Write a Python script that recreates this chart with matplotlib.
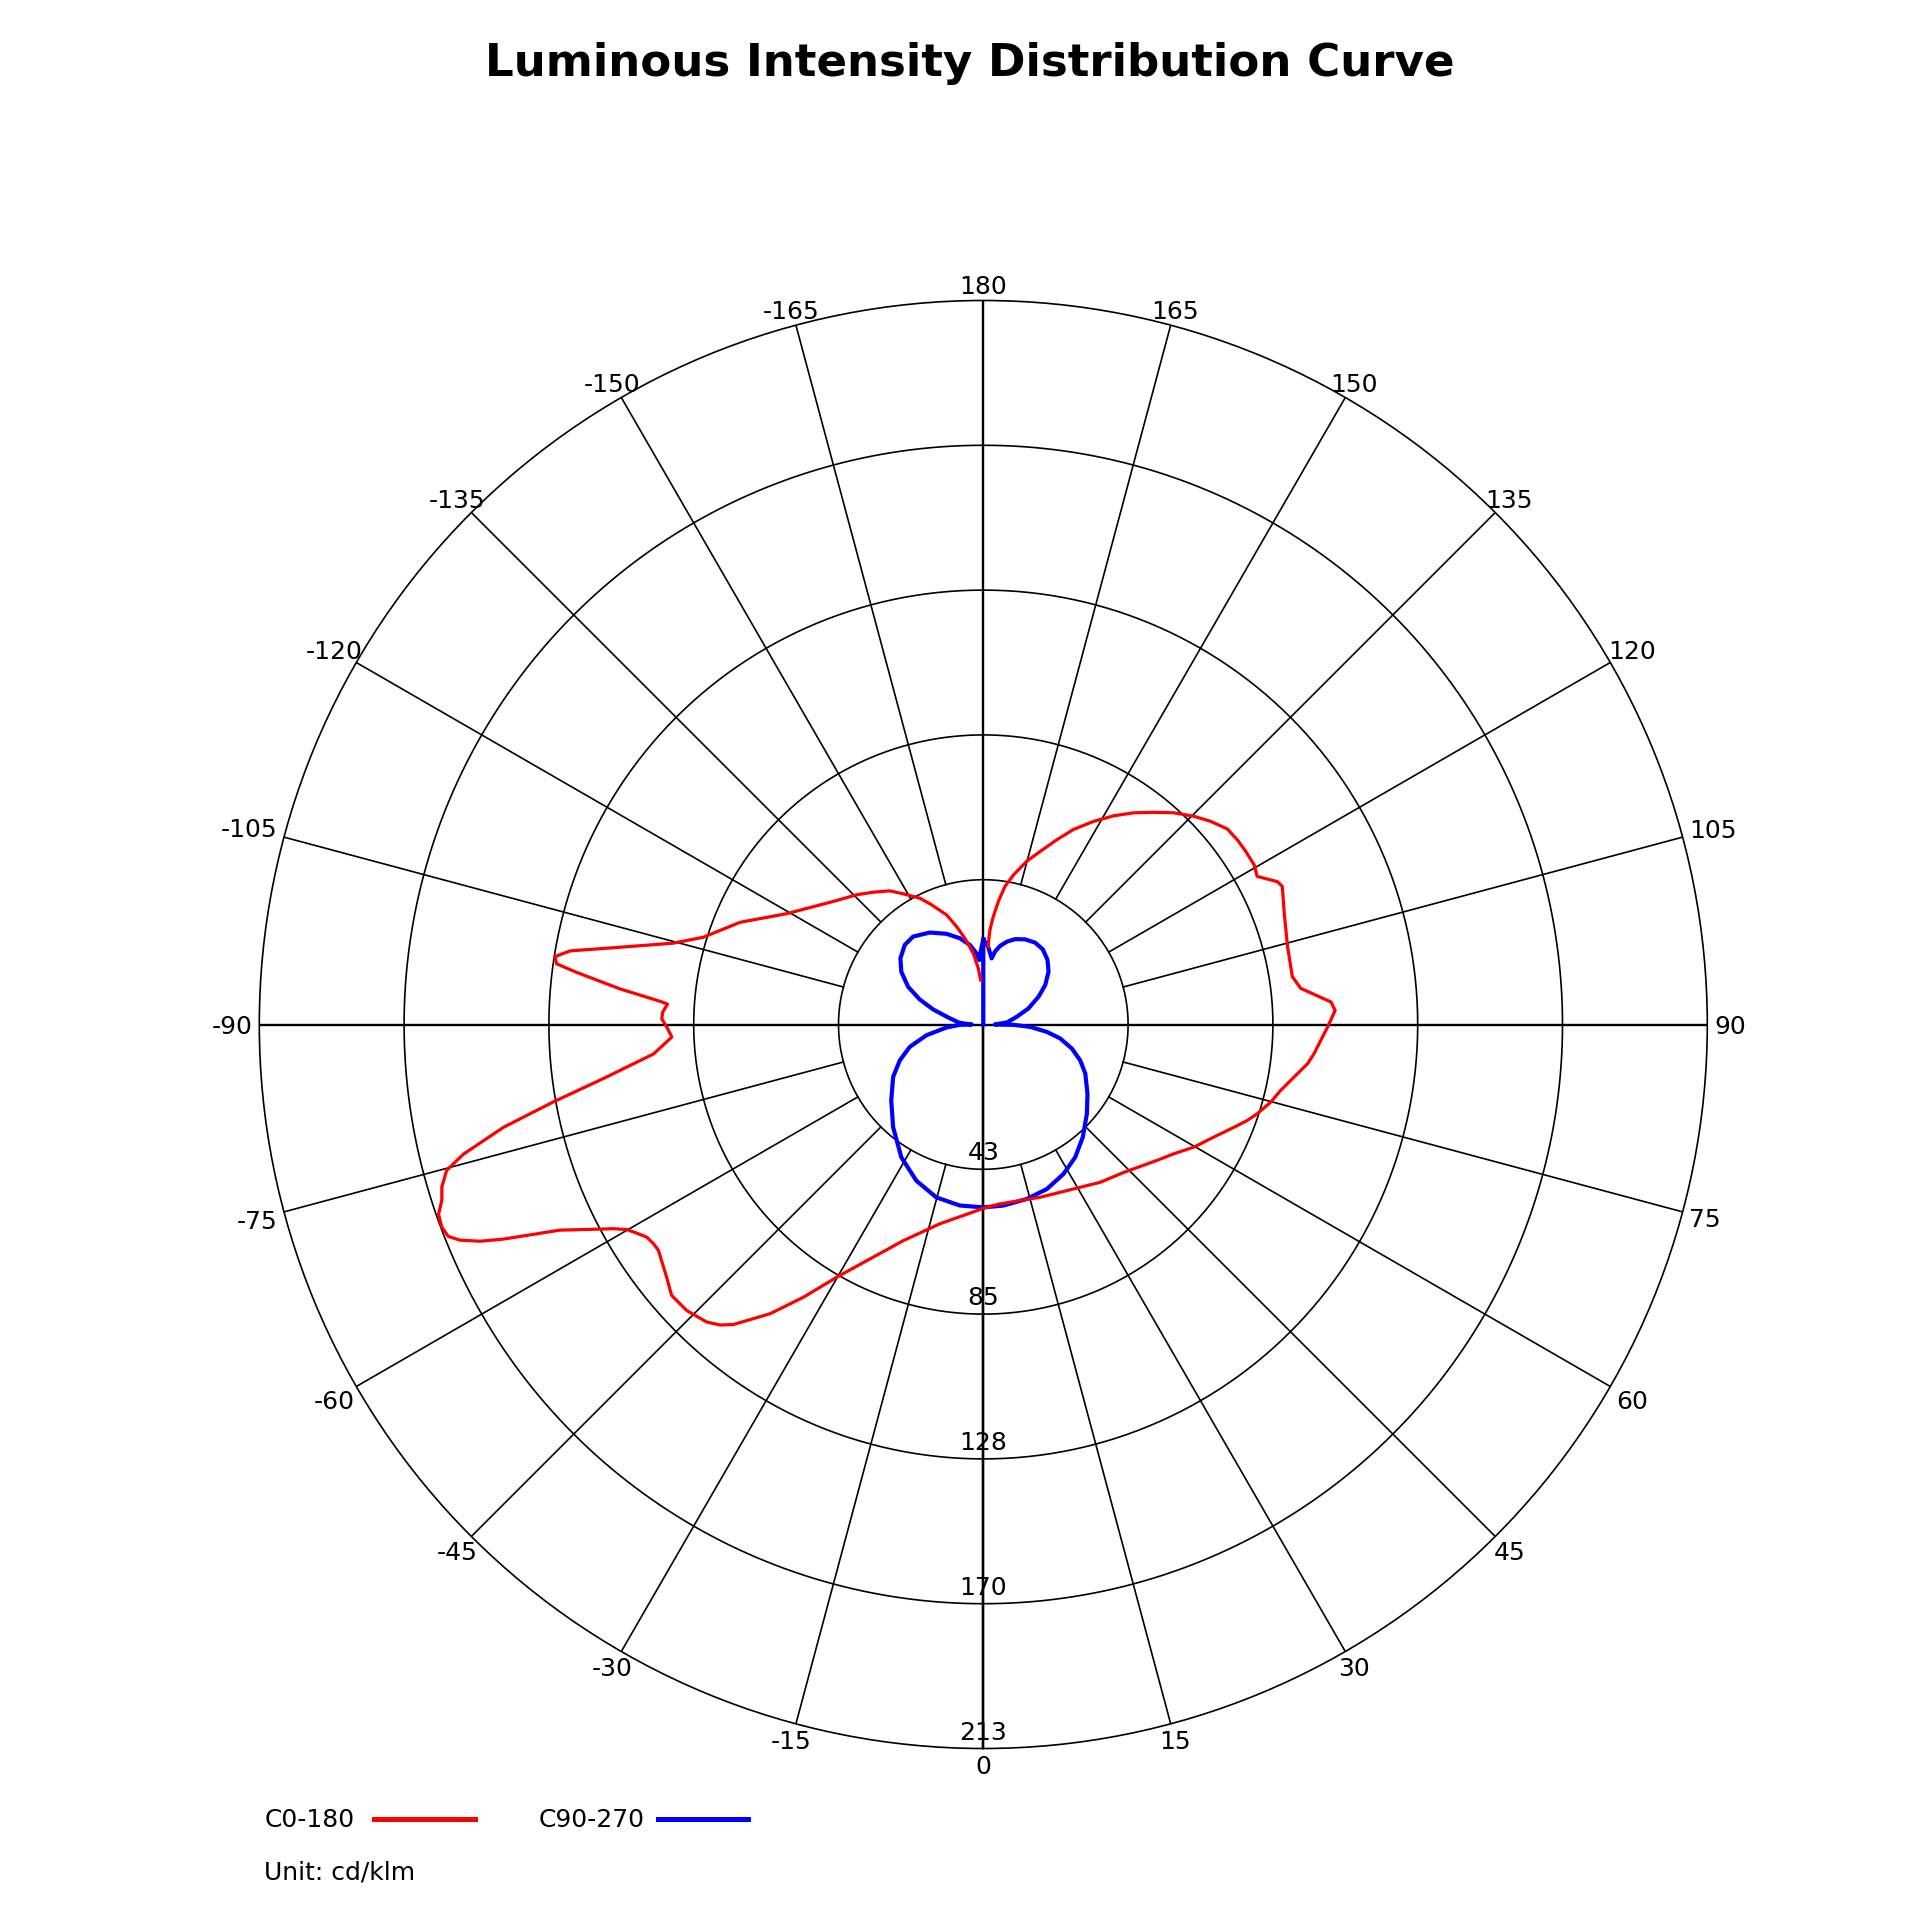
import numpy as np
import matplotlib.pyplot as plt
from matplotlib.lines import Line2D

title = "Luminous Intensity Distribution Curve"
unit_text = "Unit: cd/klm"

# C0 half (right side), gamma in degrees, intensity in cd/klm
c0_gamma = [0, 5.3, 18.2, 28.8, 36.6, 43.5, 52, 55.8, 59.8, 64, 67.7, 70, 72, 74.9,
            77.5, 81.8, 83.1, 85, 89.6, 92.3, 93.7, 96.5, 98.8, 104.4, 110.3, 114.8,
            115.9, 118.4, 120.5, 123.4, 126, 128.7, 131.8, 134.7, 138, 141.2, 144.6,
            148, 151.5, 155.2, 158.3, 161.8, 165.1, 168.6, 171.1, 173, 174.7, 176,
            176.5]
c0_value = [54.1, 53.0, 53.5, 55.2, 57.8, 60.0, 64.9, 67.7, 71.7, 75.5, 79.7, 82.6, 84.8, 87.6,
            89.6, 94.4, 96.1, 97.7, 101.3, 103.6, 102.5, 94.0, 92.0, 92.4, 94.4, 96.9,
            96.2, 91.6, 92.5, 92.5, 92.4, 92.0, 89.7, 87.1, 83.8, 80.1, 76.4,
            72.4, 68.0, 63.2, 58.5, 53.6, 49.7, 44.9, 41.1, 36.5, 31.9, 27.9,
            23.0]

# C180 half (left side)
c180_gamma = [0, -12.3, -20.3, -25.8, -30.1, -33.4, -36.4, -39.8, -41.2, -42.9, -46.0,
              -49.0, -51.4, -55.2, -56.4, -57.7, -58.95, -60.1, -61.1, -61.9, -64.1,
              -65.9, -66.7, -67.6, -68.4, -69.5, -70.8, -72.0, -73.3, -74.8, -76.0,
              -77.9, -79.8, -81.9, -84.9, -87.7, -89.5, -91.0, -92.2, -93.7, -94.1,
              -95.6, -97.3, -98.1, -99.0, -100.1, -102.0, -104.7, -107.3, -112.8,
              -119.4, -130.2, -135.6, -140.3, -145, -148.5, -153.3, -156.2, -161.5,
              -164.7, -168, -172.0, -174.9, -176.6]
c180_value = [54.1, 60.0, 67.8, 76.6, 85.9, 96.1, 105.7, 114.9, 117.5, 119.5, 121.2,
              121.5, 119.2, 116.4, 116.5, 117.1, 119.0, 121.0, 124.3, 127.8, 138.5,
              154.6, 161.2, 166.5, 169.3, 170.1, 169.7, 167.5, 166.3, 163.6, 157.6,
              144.4, 128.5, 112.9, 97.4, 91.7, 93.1, 94.6, 94.4, 93.1, 95.3,
              107.4, 120.6, 126.8, 127.6, 123.5, 109.3, 94.3, 86.3, 77.6,
              66.4, 56.5, 53.4, 50.6, 48.0, 45.1, 41.6, 38.8, 34.0,
              29.9, 25.9, 21.1, 16.6, 13.1]

# C90 half (from 180 down to 0)
c90_gamma = [180, 176.3, 172.8, 170.9, 168, 164.2, 159.6, 153.9, 147.7, 141.6, 135.2,
             129, 122.5, 116.7, 109.6, 103, 95, 90, 89.4, 87.1, 83.4, 79.7, 74.8,
             69.7, 64.3, 56.4, 49.3, 41.5, 34.7, 28.2, 21.1, 14, 6.3, 0]
c90_value = [25.1, 22.8, 19.6, 21.7, 23.6, 25.3, 26.8, 27.9, 28.5, 28.2, 26.8,
             24.7, 21.6, 18.2, 14.1, 10.1, 7.0, 3.4, 8.8, 13.8, 18.8, 23.0, 27.0,
             30.4, 33.3, 36.8, 40.2, 44.2, 47.5, 49.9, 51.9, 52.9, 53.6, 53.8]

# C270 half (from 0 to -180)
c270_gamma = [0, -7.4, -15.2, -23.2, -31.7, -41.3, -50.5, -59.8, -66.8, -73.1, -79.3,
              -85.3, -89.2, -90, -94, -101.3, -106.7, -111.5, -116.7, -122.8, -128.6,
              -135.4, -141.4, -149.8, -157.9, -164.8, -170.5, -174.6, -176.4, -178.8,
              -180]
c270_value = [53.8, 53.7, 52.7, 50.0, 45.9, 40.2, 35.1, 30.7, 26.7, 22.6, 17.0,
              10.9, 6.9, 3.4, 7.0, 10.5, 15.4, 20.1, 24.8, 28.7, 31.2,
              32.9, 33.1, 31.3, 28.8, 26.3, 23.7, 21.0, 19.0, 22.9,
              25.1]

ring_values = [42.6, 85.2, 127.8, 170.4, 213.0]
ring_labels = ["43", "85", "128", "170", "213"]
angle_ticks = list(range(-165, 181, 15))

R_MAX = ring_values[-1]
FS = 18

fig = plt.figure(figsize=(19.2, 19.2), dpi=100, facecolor='white')
ax = fig.add_axes([0.13505, 0.08932, 0.75417, 0.75417], projection='polar')
ax.set_theta_zero_location('S')
ax.set_theta_direction(1)
ax.set_ylim(0, R_MAX)
ax.set_xticks([])
ax.set_yticks([])
ax.grid(False)
ax.spines['polar'].set_linewidth(1.2)

# rings
full = np.linspace(0, 2 * np.pi, 721)
for rv in ring_values[:-1]:
    ax.plot(full, np.full_like(full, rv), color='black', lw=1.2, zorder=1)

# spokes (the 0/90/180 axes run through the centre)
for a in angle_ticks + [0]:
    th = np.deg2rad(a)
    if a % 90 == 0:
        ax.plot([th, th], [0, R_MAX], color='black', lw=1.7, zorder=1)
    else:
        ax.plot([th, th], [ring_values[0], R_MAX], color='black', lw=1.2, zorder=1)

# angle labels outside the outer ring
for a in sorted(set(angle_ticks + [0])):
    th = np.deg2rad(a)
    lab = str(a)
    half_w = (15.9 * sum(c.isdigit() for c in lab) + 9.0 * lab.count('-')) / 2
    half_h = 9.3
    s, c = abs(np.sin(th)), abs(np.cos(th))
    d = 7 + min(half_w / s if s > 1e-6 else 1e9, half_h / c if c > 1e-6 else 1e9)
    ax.annotate(lab, xy=(th, R_MAX), xytext=(np.sin(th) * d, -np.cos(th) * d),
                textcoords='offset pixels', ha='center', va='center_baseline',
                fontsize=FS, annotation_clip=False)

# ring labels along the lower axis
for rv, lab in zip(ring_values, ring_labels):
    ax.annotate(lab, xy=(0, rv), xytext=(0, 9), textcoords='offset pixels',
                ha='center', va='baseline', fontsize=FS, zorder=5)

# curves
red_g = list(reversed(c180_gamma)) + c0_gamma[1:]
red_v = list(reversed(c180_value)) + c0_value[1:]
blue_g = [180] + c90_gamma + c270_gamma[1:]
blue_v = [0] + c90_value + c270_value[1:]
ax.plot(np.deg2rad(blue_g), blue_v, color='#0000ff', lw=3.0, zorder=3,
        solid_joinstyle='round')
ax.plot(np.deg2rad(red_g), red_v, color='#ff0000', lw=2.3, zorder=4,
        solid_joinstyle='round')

# title
fig.text(970 / 1920, 1 - 76 / 1920, title, fontsize=32.5, fontweight='bold',
         ha='center', va='baseline')

# legend
y_leg = 1 - 1818.5 / 1920
fig.text(264.5 / 1920, 1 - 1827 / 1920, "C0-180", fontsize=FS, va='baseline')
fig.add_artist(Line2D([373.5 / 1920, 475 / 1920], [y_leg, y_leg], color='#ff0000', lw=3.6))
fig.text(538.7 / 1920, 1 - 1827 / 1920, "C90-270", fontsize=FS, va='baseline')
fig.add_artist(Line2D([657.6 / 1920, 748 / 1920], [y_leg, y_leg], color='#0000ff', lw=3.6))
fig.text(264.5 / 1920, 1 - 1879 / 1920, unit_text, fontsize=FS, va='baseline')

fig.savefig('out.png', dpi=100, facecolor='white')
